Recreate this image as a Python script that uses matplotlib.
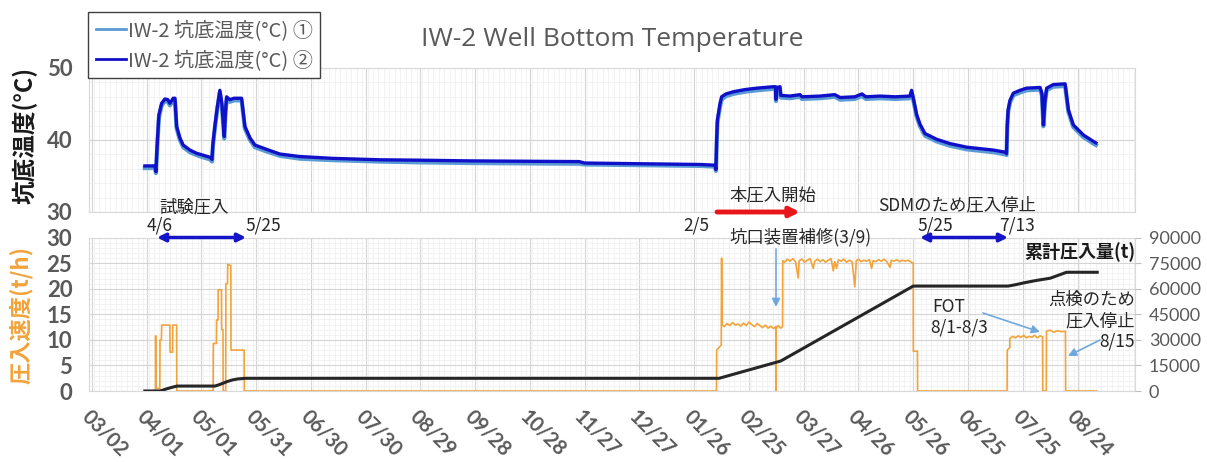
import matplotlib
matplotlib.use('Agg')
import matplotlib.pyplot as plt
import matplotlib.ticker as mticker
import matplotlib.dates as mdates
import pandas as pd

# ---------------- data ----------------
START = pd.Timestamp('2022-03-02')
tick_labels = ['03/02', '04/01', '05/01', '05/31', '06/30', '07/30', '08/29', '09/28',
               '10/28', '11/27', '12/27', '01/26', '02/25', '03/27', '04/26', '05/26',
               '06/25', '07/25', '08/24']

# well bottom temperature, days since START
temp_day = [29.0, 34.5, 35.1, 35.5, 35.9, 36.7, 38.2, 40.0, 41.6, 42.7, 43.8, 44.5, 45.5,
            46.4, 48.2, 50.0, 53.7, 57.4, 60.8, 64.7, 65.8, 66.3, 67.4, 68.7, 70.1, 71.2,
            72.5, 73.2, 73.8, 75.6, 77.8, 82.0, 83.8, 86.6, 89.3, 95.7, 103.0, 114.0,
            132.0, 158.0, 178.0, 207.0, 267.0, 270.0, 333.0, 341.4, 341.9, 342.3, 342.7,
            344.1, 345.0, 347.4, 351.4, 357.8, 364.2, 373.3, 374.5, 374.8, 375.3, 377.0,
            377.4, 382.5, 388.0, 389.0, 398.9, 407.0, 409.9, 418.0, 421.9, 424.0, 431.8,
            440.0, 448.2, 449.1, 449.9, 451.9, 453.7, 456.4, 462.8, 470.1, 479.3, 493.9,
            500.5, 501.1, 501.5, 502.0, 503.0, 504.8, 508.5, 512.1, 519.5, 520.5, 521.3,
            522.2, 523.1, 526.7, 533.2, 535.0, 537.7, 543.2, 548.7, 550.1]
temp_2 = [36.4, 36.4, 35.6, 38.0, 40.0, 43.5, 45.1, 45.7, 45.6, 45.1, 45.5, 45.8, 45.8,
          41.9, 40.3, 39.3, 38.6, 38.15, 37.9, 37.6, 37.3, 39.5, 42.0, 44.6, 46.9, 45.0,
          40.5, 44.0, 46.0, 45.6, 45.8, 45.8, 41.9, 40.3, 39.3, 38.7, 38.05, 37.7,
          37.45, 37.25, 37.2, 37.1, 37.0, 36.8, 36.6, 36.5, 35.9, 40.0, 42.8,
          45.0, 46.0, 46.4, 46.7, 47.0, 47.2, 47.4, 47.4, 45.65, 47.3, 47.4,
          46.2, 46.1, 46.3, 46.0, 46.1, 46.3, 45.9, 46.0, 46.4, 46.0, 46.1,
          46.0, 46.1, 46.9, 46.0, 43.5, 42.2, 40.9, 40.1, 39.5, 39.0, 38.6,
          38.3, 38.1, 42.0, 44.2, 45.5, 46.5, 46.9, 47.2, 47.3, 46.5, 42.1,
          45.5, 47.2, 47.7, 47.8, 44.2, 42.1, 40.7, 39.8, 39.6]
temp_1 = [36.1, 36.1, 35.4, 37.6, 39.6, 43.1, 44.8, 45.4, 45.3, 44.8, 45.2, 45.5, 45.5,
          41.6, 40.0, 39.0, 38.3, 37.9, 37.6, 37.3, 37.0, 39.2, 41.7, 44.3, 46.6, 44.7,
          40.2, 43.7, 45.7, 45.3, 45.5, 45.5, 41.6, 40.0, 39.0, 38.4, 37.8, 37.4,
          37.2, 37.0, 36.9, 36.8, 36.7, 36.6, 36.4, 36.3, 35.7, 39.6, 42.4,
          44.6, 45.6, 46.1, 46.4, 46.7, 46.9, 47.1, 47.1, 45.4, 47.0, 47.1,
          45.9, 45.8, 46.0, 45.7, 45.8, 46.0, 45.6, 45.7, 46.1, 45.7, 45.8,
          45.7, 45.8, 46.6, 45.7, 43.2, 41.9, 40.6, 39.8, 39.2, 38.7, 38.3,
          38.0, 37.9, 41.7, 43.9, 45.2, 46.2, 46.6, 46.9, 47.0, 46.2, 41.9,
          45.2, 46.9, 47.4, 47.5, 43.9, 41.8, 40.4, 39.5, 39.3]

# injection rate (t/h)
rate_day = [34.0, 34.8, 34.9, 35.1, 37.2, 37.3, 38.1, 38.2, 42.7, 42.8, 44.2, 44.3, 46.4, 46.5,
            66.4, 66.5, 68.2, 68.3, 69.1, 69.2, 71.0, 71.1, 71.8, 71.9, 73.3, 73.4, 74.3, 74.4,
            76.1, 76.2, 83.4, 83.5,
            342.2, 342.3, 344.8, 345.0, 345.3, 346.5, 348.0, 349.5, 351.0, 352.5, 354.0,
            355.5, 357.0, 358.5, 360.0, 361.5, 363.0, 364.5, 366.0, 367.5, 369.0, 370.5,
            372.0, 373.5, 374.7, 374.8, 374.9, 376.0, 377.5, 378.4, 378.5,
            379.5, 381.0, 382.5, 384.0, 385.5, 387.0, 387.5, 389.0, 390.5, 392.0, 393.5,
            395.2, 396.0, 397.5, 399.0, 400.5, 402.0, 403.5, 405.0, 406.2, 407.0, 408.0,
            409.0, 410.5, 412.0, 413.5, 415.0, 416.5, 418.0, 418.8, 420.0, 421.5, 423.0,
            424.5, 426.0, 427.2, 428.0, 429.5, 431.0, 432.5, 434.0, 435.5, 437.3, 438.0,
            439.5, 441.0, 442.5, 444.0, 445.5, 447.0, 448.5, 450.0, 450.05, 452.3, 452.4,
            501.4, 501.5, 502.9, 503.0, 504.5, 506.0, 507.5, 509.0, 510.5, 512.0, 513.5,
            515.0, 516.5, 518.0, 519.5, 520.9, 521.0, 522.9, 523.0, 525.0, 527.0, 529.0,
            531.0, 533.4, 533.5, 550.6]
rate_val = [0, 0, 10.8, 0.5, 0.5, 10.0, 10.0, 12.9, 12.9, 7.6, 7.6, 12.9, 12.9, 0,
            0, 9.3, 9.3, 13.9, 13.9, 19.8, 19.8, 12.0, 12.0, 0, 0, 21.0, 21.0, 24.8,
            24.5, 8.0, 8.0, 0,
            0, 8.0, 9.0, 26.0, 13.0, 12.6, 13.2, 12.8, 13.4, 12.9, 13.1,
            12.7, 13.3, 12.8, 13.5, 13.0, 12.6, 13.2, 12.8, 12.4, 12.9, 12.3,
            12.7, 12.2, 12.6, 0, 12.4, 12.8, 12.3, 12.6, 25.5,
            25.2, 25.8, 25.4, 25.9, 25.3, 22.1, 25.5, 25.8, 25.2, 25.6, 25.9,
            24.0, 25.4, 25.8, 25.3, 25.7, 25.2, 25.6, 25.9, 23.5, 25.3, 24.0,
            25.7, 25.4, 25.8, 25.2, 25.6, 25.3, 20.4, 25.5, 25.8, 25.3, 25.6,
            25.4, 25.7, 24.0, 25.5, 25.3, 25.7, 25.4, 25.8, 25.3, 24.2, 25.6,
            25.4, 25.7, 25.3, 25.6, 25.4, 25.6, 25.3, 25.0, 7.8, 7.8, 0,
            0, 8.0, 8.5, 10.3, 10.7, 10.4, 10.8, 10.5, 10.9, 10.4, 10.7,
            10.5, 10.9, 10.4, 10.8, 10.6, 0, 0, 11.7, 11.9, 11.5, 11.8,
            11.6, 11.7, 0, 0]

# cumulative injected amount (t)
cum_day = [29, 37, 38.5, 41, 44, 46.6, 67.4, 70, 74, 77, 80, 84, 343.6, 377.4, 450.0,
           502.0, 506, 512, 518, 525, 534, 550.8]
cum_val = [0, 0, 400, 1300, 2200, 2900, 2900, 3800, 5500, 6500, 7100, 7450, 7450, 17600,
           61600, 61600, 62400, 63800, 65000, 66200, 69700, 69700]

# ---------------- style ----------------
W, H = 1207, 462
JP = ['Noto Sans CJK JP', 'DejaVu Sans']
LAT = ['Lato', 'DejaVu Sans']
GRAY = '#595959'
ORANGE = '#F2A33A'
DARKBLUE = '#1010C8'
LIGHTBLUE = '#5B9BD5'


def fx(x):
    return x / W


def fy(y):
    return 1 - y / H


def to_dates(days):
    return START + pd.to_timedelta(days, unit='D')


fig = plt.figure(figsize=(W / 100, H / 100), dpi=100)
L, R = 89, 1135
ax_t = fig.add_axes([fx(L), fy(212), (R - L) / W, (212 - 68) / H])
ax_b = fig.add_axes([fx(L), fy(391), (R - L) / W, (391 - 237.7) / H])

xmin = START - pd.Timedelta(days=1.6)
xmax = START + pd.Timedelta(days=571.5)
tick_pos = [START + pd.Timedelta(days=30 * i) for i in range(len(tick_labels))]

for ax in (ax_t, ax_b):
    ax.set_xlim(xmin, xmax)
    ax.set_xticks(tick_pos)
    ax.xaxis.set_minor_locator(mdates.DayLocator(interval=3))
    ax.grid(which='major', color='#D4D4D4', lw=0.8)
    ax.grid(which='minor', color='#EFEFEF', lw=0.5)
    ax.set_axisbelow(True)
    for s in ax.spines.values():
        s.set_color('#D9D9D9')
        s.set_linewidth(0.8)
    ax.tick_params(which='both', length=0)

# top panel
ax_t.set_ylim(30, 50)
ax_t.set_yticks([30, 40, 50])
ax_t.yaxis.set_minor_locator(mticker.MultipleLocator(2))
ax_t.set_xticklabels([])
for lab in ax_t.get_yticklabels():
    lab.set_fontfamily(LAT)
    lab.set_fontweight('bold')
    lab.set_fontsize(16)
    lab.set_color(GRAY)
ax_t.tick_params(axis='y', pad=12)

td = to_dates(temp_day)
l1, = ax_t.plot(td, temp_1, color=LIGHTBLUE, lw=3.0, label='IW-2 坑底温度(°C) ①')
l2, = ax_t.plot(td, temp_2, color=DARKBLUE, lw=2.4, label='IW-2 坑底温度(°C) ②')

leg = fig.legend(handles=[l1, l2], loc='upper left', bbox_to_anchor=(fx(88), fy(12)),
                 bbox_transform=fig.transFigure, prop={'family': JP, 'size': 14.5},
                 frameon=True, fancybox=False, edgecolor='#404040', framealpha=1,
                 handlelength=1.5, handletextpad=0.1, borderpad=0.38, labelspacing=0.45,
                 borderaxespad=0)
leg.get_frame().set_linewidth(1.0)
for t in leg.get_texts():
    t.set_color(GRAY)
for h in leg.legend_handles:
    h.set_linewidth(2.0)

fig.text(fx(612), fy(40), 'IW-2 Well Bottom Temperature', ha='center', va='center',
         fontsize=19, color=GRAY, family=['Open Sans', 'DejaVu Sans'])
fig.text(fx(25), fy(135), '坑底温度(°C)', rotation=90, ha='center', va='center',
         fontsize=17, fontweight='bold', color='#1a1a1a', family=JP)

# bottom panel
ax_b.set_ylim(0, 30)
ax_b.set_yticks([0, 5, 10, 15, 20, 25, 30])
ax_b.yaxis.set_minor_locator(mticker.MultipleLocator(1))
ax_b.set_xticklabels(tick_labels, rotation=-45, ha='left', va='top',
                     rotation_mode='anchor')
for lab in ax_b.get_xticklabels():
    lab.set_fontfamily(LAT)
    lab.set_fontweight('bold')
    lab.set_fontsize(14.5)
    lab.set_color(GRAY)
ax_b.tick_params(axis='x', pad=11)
for lab in ax_b.get_yticklabels():
    lab.set_fontfamily(LAT)
    lab.set_fontweight('bold')
    lab.set_fontsize(16)
    lab.set_color(GRAY)
ax_b.tick_params(axis='y', pad=12)

ax_b.plot(to_dates(rate_day), rate_val, color=ORANGE, lw=1.2)

ax_c = ax_b.twinx()
ax_c.set_ylim(0, 90000)
ax_c.set_yticks([0, 15000, 30000, 45000, 60000, 75000, 90000])
ax_c.set_yticklabels(['0', '15000', '30000', '45000', '60000', '75000', '90000'])
for lab in ax_c.get_yticklabels():
    lab.set_fontfamily(LAT)
    lab.set_fontsize(13)
    lab.set_color(GRAY)
ax_c.tick_params(axis='y', length=4, color='#BFBFBF', pad=6)
for s in ax_c.spines.values():
    s.set_visible(False)
ax_c.plot(to_dates(cum_day), cum_val, color='#262626', lw=2.2)

fig.text(fx(21), fy(315), '圧入速度(t/h)', rotation=90, ha='center', va='center',
         fontsize=16, fontweight='bold', color=ORANGE, family=JP)
fig.text(fx(1135), fy(252), '累計圧入量(t)', ha='right', va='center', fontsize=13,
         fontweight='bold', color='#1a1a1a', family=JP)

# annotations
TXT = '#262626'
fs = 12.5
fig.text(fx(194), fy(207), '試験圧入', ha='center', va='center', fontsize=fs, color=TXT, family=JP)
fig.text(fx(160), fy(226), '4/6', ha='center', va='center', fontsize=fs, color=TXT, family=JP)
fig.text(fx(263), fy(226), '5/25', ha='center', va='center', fontsize=fs, color=TXT, family=JP)
fig.text(fx(773), fy(195), '本圧入開始', ha='center', va='center', fontsize=fs, color=TXT, family=JP)
fig.text(fx(696), fy(226), '2/5', ha='center', va='center', fontsize=fs, color=TXT, family=JP)
fig.text(fx(957), fy(205), 'SDMのため圧入停止', ha='center', va='center', fontsize=fs, color=TXT, family=JP)
fig.text(fx(935), fy(226), '5/25', ha='center', va='center', fontsize=fs, color=TXT, family=JP)
fig.text(fx(1017), fy(226), '7/13', ha='center', va='center', fontsize=fs, color=TXT, family=JP)
fig.text(fx(800), fy(237), '坑口装置補修(3/9)', ha='center', va='center', fontsize=fs, color=TXT, family=JP)
fig.text(fx(932), fy(307), 'FOT', ha='left', va='center', fontsize=fs, color=TXT, family=JP)
fig.text(fx(930), fy(328), '8/1-8/3', ha='left', va='center', fontsize=fs, color=TXT, family=JP)
fig.text(fx(1135), fy(300), '点検のため', ha='right', va='center', fontsize=fs, color=TXT, family=JP)
fig.text(fx(1135), fy(321), '圧入停止', ha='right', va='center', fontsize=fs, color=TXT, family=JP)
fig.text(fx(1135), fy(342), '8/15', ha='right', va='center', fontsize=fs, color=TXT, family=JP)


def arrow(x0, y0, x1, y1, color, style, lw, ms):
    fig.add_artist(matplotlib.patches.FancyArrowPatch(
        (fx(x0), fy(y0)), (fx(x1), fy(y1)), transform=fig.transFigure,
        arrowstyle=style, color=color, lw=lw, mutation_scale=ms,
        shrinkA=0, shrinkB=0))


arrow(157, 237.5, 246, 237.5, '#1414C8', '<|-|>', 2.5, 12)
arrow(920, 237.5, 1008, 237.5, '#1414C8', '<|-|>', 2.5, 12)
arrow(717, 212, 800, 212, '#E8161B', '-|>', 3.5, 14)
arrow(776, 249, 776, 307, '#6FA8DC', '-|>', 1.2, 12)
arrow(983, 313, 1040, 332, '#6FA8DC', '-|>', 1.2, 12)
arrow(1100, 340, 1068, 356, '#6FA8DC', '-|>', 1.2, 12)

fig.savefig('out.png', dpi=100)
